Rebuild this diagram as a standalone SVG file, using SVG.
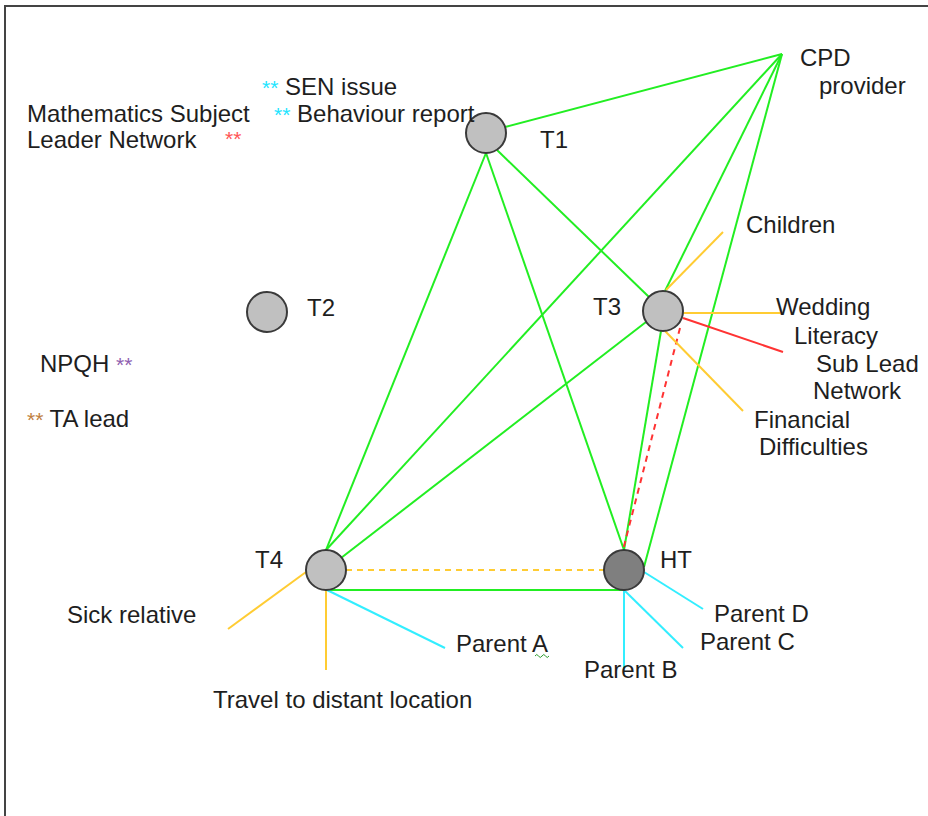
<svg xmlns="http://www.w3.org/2000/svg" width="928" height="816" viewBox="0 0 928 816">
  <style>
    text { font-family: "Liberation Sans", Arial, sans-serif; font-size: 24px; fill: #1e1e1e; }
    .ast { font-size: 21px; }
    .cy { fill: #22e5ff; }
    .rd { fill: #ff5555; }
    .pu { fill: #9060b0; }
    .br { fill: #c08040; }
    .node { fill: #c0c0c0; stroke: #3a3a3a; stroke-width: 2; }
    .node.head { fill: #7f7f7f; }
    .g { stroke: #22ee22; stroke-width: 2; fill: none; }
    .o { stroke: #ffcc33; stroke-width: 2; fill: none; }
    .c { stroke: #33eeff; stroke-width: 2; fill: none; }
    .r { stroke: #ff3333; stroke-width: 2; fill: none; }
    .dash { stroke-dasharray: 6 5; }
  </style>

  <!-- page frame -->
  <path d="M5,816 V6 H928" fill="none" stroke="#444" stroke-width="2"/>

  <!-- connectors -->
  <g id="connectors">
    <!-- professional links -->
    <line class="g" x1="505" y1="127" x2="782" y2="54"/>
    <line class="g" x1="486" y1="153" x2="326" y2="550"/>
    <line class="g" x1="486" y1="153" x2="624" y2="550"/>
    <line class="g" x1="497" y1="150" x2="649" y2="297"/>
    <line class="g" x1="782" y1="54" x2="326" y2="550"/>
    <line class="g" x1="782" y1="54" x2="665" y2="291"/>
    <line class="g" x1="782" y1="54" x2="644" y2="567"/>
    <line class="g" x1="661" y1="331" x2="624" y2="550"/>
    <line class="g" x1="646" y1="322" x2="341" y2="558"/>
    <line class="g" x1="327" y1="590" x2="624" y2="590"/>
    <line class="r dash" x1="680" y1="328" x2="623" y2="550"/>
    <line class="o dash" x1="346" y1="570" x2="604" y2="570"/>

    <!-- personal factors -->
    <line class="o" x1="666" y1="290" x2="723" y2="232"/>
    <line class="o" x1="683" y1="313" x2="782" y2="313"/>
    <line class="o" x1="665" y1="331" x2="743" y2="411"/>
    <line class="r" x1="683" y1="318" x2="783" y2="352"/>
    <line class="o" x1="306" y1="572" x2="228" y2="629"/>
    <line class="o" x1="326" y1="590" x2="326" y2="670"/>

    <!-- parents -->
    <line class="c" x1="327" y1="590" x2="445" y2="648"/>
    <line class="c" x1="624" y1="590" x2="624" y2="668"/>
    <line class="c" x1="624" y1="590" x2="683" y2="648"/>
    <line class="c" x1="644" y1="572" x2="703" y2="609"/>
  </g>

  <!-- staff nodes -->
  <g id="t1">
    <circle class="node" cx="486" cy="133" r="20"/>
    <text x="540" y="148">T1</text>
  </g>
  <g id="t2">
    <circle class="node" cx="267" cy="312" r="20"/>
    <text x="307" y="316">T2</text>
  </g>
  <g id="t3">
    <circle class="node" cx="663" cy="311" r="20"/>
    <text x="593" y="315">T3</text>
  </g>
  <g id="t4">
    <circle class="node" cx="326" cy="570" r="20"/>
    <text x="255" y="568">T4</text>
  </g>
  <g id="ht">
    <circle class="node head" cx="624" cy="570" r="20"/>
    <text x="660" y="568">HT</text>
  </g>

  <g id="cpd">
    <text x="800" y="66">CPD</text>
    <text x="819" y="94">provider</text>
  </g>

  <!-- T3 factors -->
  <g id="children"><text x="746" y="233">Children</text></g>
  <g id="wedding"><text x="776" y="315">Wedding</text></g>
  <g id="literacy">
    <text x="794" y="344">Literacy</text>
    <text x="816" y="372">Sub Lead</text>
    <text x="813" y="399">Network</text>
  </g>
  <g id="financial">
    <text x="754" y="428">Financial</text>
    <text x="759" y="455">Difficulties</text>
  </g>

  <!-- T4 factors -->
  <g id="sick"><text x="67" y="623">Sick relative</text></g>
  <g id="travel"><text x="213" y="708">Travel to distant location</text></g>

  <!-- parents -->
  <g id="parent-a">
    <text x="456" y="652">Parent A</text>
    <path d="M535,656 q1.75,-3 3.5,0 t3.5,0 t3.5,0 t3.5,0" fill="none" stroke="#2a9a2a" stroke-width="1"/>
  </g>
  <g id="parent-b"><text x="584" y="678">Parent B</text></g>
  <g id="parent-c"><text x="700" y="650">Parent C</text></g>
  <g id="parent-d"><text x="714" y="622">Parent D</text></g>

  <!-- notes -->
  <g id="notes">
    <text x="262" y="95"><tspan class="ast cy">**</tspan> SEN issue</text>
    <text x="274" y="122"><tspan class="ast cy">**</tspan> Behaviour report</text>
    <text x="27" y="122">Mathematics Subject</text>
    <text x="27" y="148">Leader Network</text>
    <text class="ast rd" x="225" y="146">**</text>
    <text x="40" y="372">NPQH <tspan class="ast pu">**</tspan></text>
    <text x="27" y="427"><tspan class="ast br">**</tspan> TA lead</text>
  </g>
</svg>
